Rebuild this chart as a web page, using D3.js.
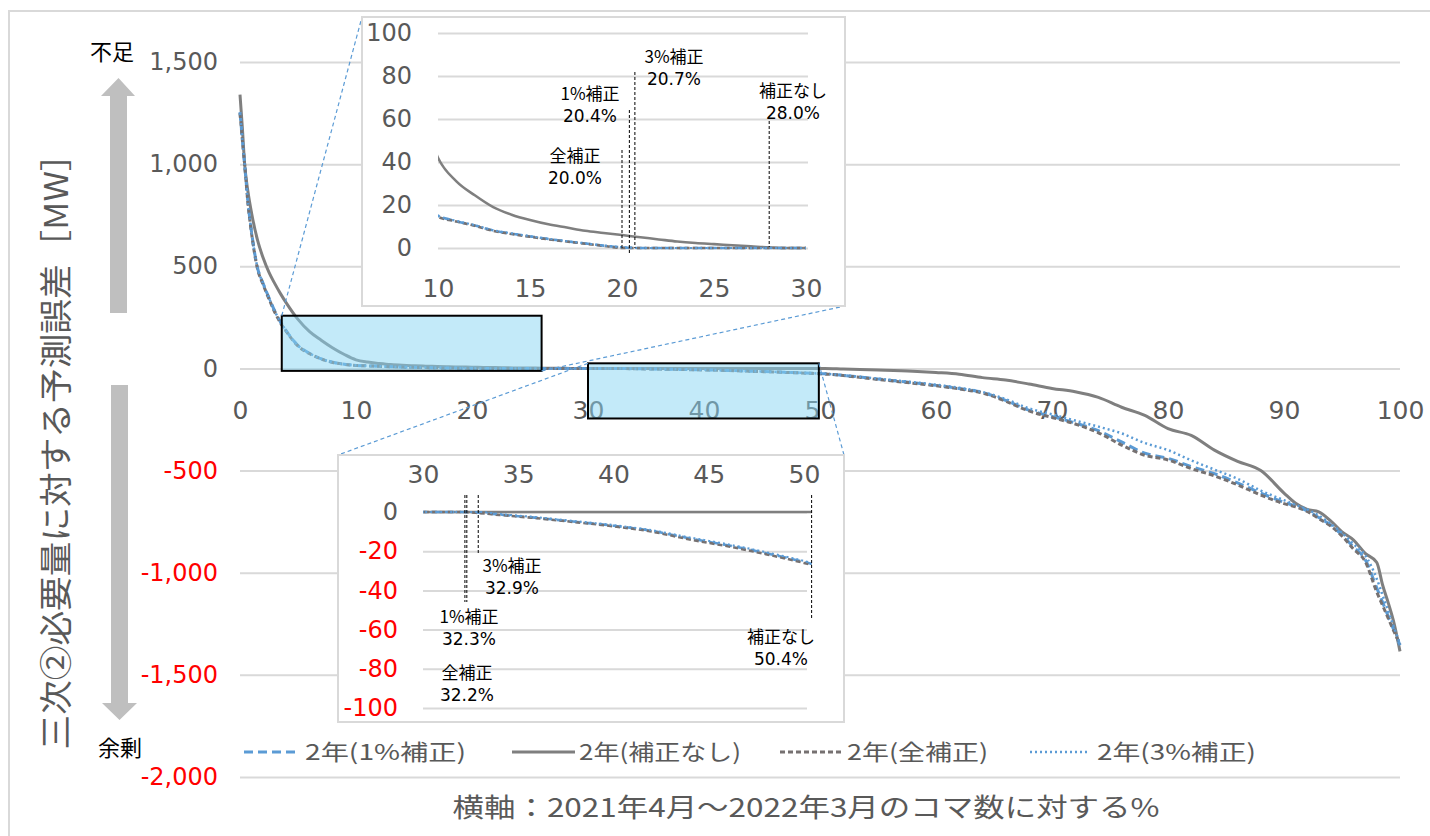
<!DOCTYPE html>
<html>
<head>
<meta charset="utf-8">
<script src="https://cdn.jsdelivr.net/npm/d3@7"></script>
<style>
  body { margin: 0; background: #fff; }
  svg { display: block; }
</style>
</head>
<body>
<div id="chart"></div>
<script>
// x positions (% of periods) shared by all series
const xs = [0, 0.2, 0.4, 0.7, 1, 1.5, 2, 2.5, 3, 3.5, 4,
  5, 6, 7, 8, 9, 10,
  11, 12, 13, 14, 15, 16, 17, 18, 19, 20, 21, 22, 23, 24, 25, 26, 27, 28, 29, 30,
  32, 33, 34, 36, 38, 40, 42, 44, 46, 48, 50, 50.4,
  52, 55, 58, 60, 62, 64, 66, 68, 70,
  72, 74, 76, 78, 80, 82, 84, 86, 88, 90,
  91, 92, 93, 94, 95, 96, 97, 98, 98.5, 99, 99.5, 100];

const noCorr = [1340, 1180, 1000, 860, 760, 630, 540, 470, 415, 365, 320,
  240, 180, 138, 100, 68, 42,
  31, 24.5, 19, 15.5, 13, 11, 9.5, 8, 7, 6, 5, 4, 3, 2.3, 1.8, 1.3, 0.8, 0.3, 0, 0,
  0, 0, 0, 0, 0, 0, 0, 0, 0, 0, 0, 0,
  -3, -8, -14, -20, -28, -45, -57, -76, -98,
  -114, -142, -190, -230, -295, -328, -400, -455, -500, -610,
  -660, -690, -702, -745, -800, -840, -905, -950, -1060, -1150, -1250, -1385];

const allCorr = [1250, 1120, 1000, 800, 660, 490, 410, 340, 275, 222, 180,
  110, 72, 46, 29, 20, 14.5,
  12.3, 10.3, 8, 6.5, 5.2, 4, 3, 2, 1, 0, 0, 0, 0, 0, 0, 0, 0, 0, 0, 0,
  0, -0.6, -1.5, -3.2, -5.2, -7.3, -10, -14, -17.5, -21.5, -26, -27,
  -35, -54, -72, -85, -100, -120, -160, -208, -240,
  -272, -315, -375, -425, -448, -490, -526, -570, -620, -662,
  -678, -700, -735, -770, -820, -885, -945, -1095, -1160, -1225, -1290, -1350];

const corr1 = [1255, 1125, 1000, 805, 665, 495, 415, 345, 280, 226, 183,
  112, 74, 47, 30, 20.5, 15,
  12.5, 10.5, 8.2, 6.7, 5.4, 4.2, 3.1, 2.1, 1.1, 0.3, 0, 0, 0, 0, 0, 0, 0, 0, 0, 0,
  0, -0.4, -1.3, -3, -5, -7, -9.6, -13.5, -17, -21, -25.5, -26.5,
  -34, -52, -70, -83, -98, -118, -156, -204, -235,
  -267, -305, -360, -415, -440, -480, -515, -560, -610, -655,
  -674, -697, -730, -766, -815, -875, -935, -1075, -1145, -1215, -1285, -1355];

const corr3 = [1250, 1120, 1000, 805, 665, 495, 415, 345, 280, 226, 183,
  112, 74, 47, 30, 20.5, 15,
  12.6, 10.6, 8.3, 6.8, 5.5, 4.3, 3.2, 2.2, 1.2, 0.4, 0, 0, 0, 0, 0, 0, 0, 0, 0, 0,
  0, 0, -1, -2.7, -4.7, -6.7, -9.3, -13, -16.5, -20.5, -25, -26,
  -33, -50, -67, -80, -95, -115, -150, -195, -225,
  -255, -285, -318, -365, -400, -450, -495, -540, -598, -645,
  -668, -690, -720, -760, -805, -860, -915, -1030, -1110, -1190, -1270, -1350];

const seriesNames = ['2年(1%補正)', '2年(補正なし)', '2年(全補正)', '2年(3%補正)'];
const seriesValues = [corr1, noCorr, allCorr, corr3];

const mainYTicks = [1500, 1000, 500, 0, -500, -1000, -1500, -2000];
const mainXTicks = [0, 10, 20, 30, 40, 50, 60, 70, 80, 90, 100];
const inset1YTicks = [0, 20, 40, 60, 80, 100];
const inset1XTicks = [10, 15, 20, 25, 30];
const inset2YTicks = [0, -20, -40, -60, -80, -100];
const inset2XTicks = [30, 35, 40, 45, 50];

// zoomed ranges [x0, x1, y0, y1]
const zoomBox1 = [3.6, 26, -12, 258];
const zoomBox2 = [30, 49.9, -245, 25];

// crossing points annotated in the insets
const inset1Notes = [['全補正', '20.0%', 20.0], ['1%補正', '20.4%', 20.4], ['3%補正', '20.7%', 20.7], ['補正なし', '28.0%', 28.0]];
const inset2Notes = [['全補正', '32.2%', 32.2], ['1%補正', '32.3%', 32.3], ['3%補正', '32.9%', 32.9], ['補正なし', '50.4%', 50.4]];

// ---- styles / layout ----
const styles = [
  { color: '#5b9bd5', dash: '9,5', width: 3 },
  { color: '#7f7f7f', dash: null, width: 3 },
  { color: '#767171', dash: '5,3', width: 3 },
  { color: '#5b9bd5', dash: '2,3', width: 2.5 }
];
const drawOrder = [1, 0, 2, 3];
const grey = '#595959';
const gridC = '#d9d9d9';
const cjk = '"Noto Sans CJK JP", "Noto Sans", sans-serif';
const num = '"DejaVu Sans", Verdana, sans-serif';

const svg = d3.select('#chart').append('svg')
  .attr('width', 1430).attr('height', 836)
  .style('background', '#fff');

svg.append('rect').attr('x', 9).attr('y', 11).attr('width', 1440).attr('height', 840)
  .attr('fill', 'none').attr('stroke', gridC).attr('stroke-width', 2);

const x = d3.scaleLinear().domain([0, 100]).range([240, 1400]);
const y = d3.scaleLinear().domain([-2000, 1500]).range([777, 62]);

const fmt = d => (d < 0 ? '-' : '') + d3.format(',')(Math.abs(d));

// gridlines
svg.append('g')
  .attr('transform', 'translate(240,0)')
  .call(d3.axisLeft(y).tickValues(mainYTicks).tickSize(-1160).tickFormat(''))
  .call(g => g.select('.domain').remove())
  .call(g => g.selectAll('line').attr('stroke', gridC).attr('stroke-width', 2));

// y labels
svg.append('g')
  .attr('transform', 'translate(240,0)')
  .call(d3.axisLeft(y).tickValues(mainYTicks).tickSize(0).tickPadding(22).tickFormat(fmt))
  .call(g => g.select('.domain').remove())
  .call(g => g.selectAll('text')
    .style('font-family', num).style('font-size', '24px')
    .attr('fill', d => d < 0 ? '#ff0000' : grey));

// x labels
svg.append('g')
  .attr('transform', 'translate(0,' + y(0) + ')')
  .call(d3.axisBottom(x).tickValues(mainXTicks).tickSize(0).tickPadding(33))
  .call(g => g.select('.domain').remove())
  .call(g => g.selectAll('text')
    .style('font-family', num).style('font-size', '25px').attr('fill', grey));

function lineGen(xsc, ysc) {
  return d3.line()
    .x((d, i) => xsc(xs[i]))
    .y(d => ysc(d))
    .curve(d3.curveMonotoneX);
}

function drawSeries(g, xsc, ysc, scaleW) {
  const gen = lineGen(xsc, ysc);
  drawOrder.forEach(k => {
    g.append('path')
      .attr('d', gen(seriesValues[k]))
      .attr('fill', 'none')
      .attr('stroke', styles[k].color)
      .attr('stroke-width', styles[k].width * scaleW)
      .attr('stroke-dasharray', styles[k].dash)
      .attr('stroke-linejoin', 'round');
  });
}

drawSeries(svg.append('g'), x, y, 1);

// zoom highlight boxes
[zoomBox1, zoomBox2].forEach(b => {
  svg.append('rect')
    .attr('x', x(b[0])).attr('y', y(b[3]))
    .attr('width', x(b[1]) - x(b[0])).attr('height', y(b[2]) - y(b[3]))
    .attr('fill', '#87d5f3').attr('fill-opacity', 0.5)
    .attr('stroke', '#000').attr('stroke-width', 2);
});

// inset boxes
const inset1 = { left: 362, top: 17, right: 845, bottom: 306 };
const inset2 = { left: 338, top: 455, right: 844, bottom: 722 };

// connector lines
const conn = [
  [x(zoomBox1[0]), y(zoomBox1[3]), inset1.left, inset1.top],
  [x(zoomBox1[1]), y(zoomBox1[2]), inset1.right, inset1.bottom],
  [x(zoomBox2[0]), y(zoomBox2[3]), inset2.left, inset2.top],
  [x(zoomBox2[1]), y(zoomBox2[3]), inset2.right, inset2.top]
];
svg.append('g').selectAll('line').data(conn).enter().append('line')
  .attr('x1', d => d[0]).attr('y1', d => d[1]).attr('x2', d => d[2]).attr('y2', d => d[3])
  .attr('stroke', '#5b9bd5').attr('stroke-width', 1.2).attr('stroke-dasharray', '4,3');

function insetFrame(b) {
  svg.append('rect')
    .attr('x', b.left).attr('y', b.top)
    .attr('width', b.right - b.left).attr('height', b.bottom - b.top)
    .attr('fill', '#fff').attr('stroke', gridC).attr('stroke-width', 2);
}

// ---- inset 1 (10-30, 0..100) ----
insetFrame(inset1);
const x1 = d3.scaleLinear().domain([10, 30]).range([438, 806]);
const y1 = d3.scaleLinear().domain([0, 100]).range([248, 33]);
const g1 = svg.append('g');
g1.append('g').attr('transform', 'translate(438,0)')
  .call(d3.axisLeft(y1).tickValues(inset1YTicks).tickSize(-370).tickPadding(26))
  .call(g => g.select('.domain').remove())
  .call(g => g.selectAll('line').attr('stroke', gridC).attr('stroke-width', 2))
  .call(g => g.selectAll('text').style('font-family', num).style('font-size', '24px').attr('fill', grey));
g1.append('g').attr('transform', 'translate(0,248)')
  .call(d3.axisBottom(x1).tickValues(inset1XTicks).tickSize(0).tickPadding(31))
  .call(g => g.select('.domain').remove())
  .call(g => g.selectAll('text').style('font-family', num).style('font-size', '25px').attr('fill', grey));
svg.append('clipPath').attr('id', 'clip1').append('rect')
  .attr('x', x1(10)).attr('y', y1(100)).attr('width', x1(30) - x1(10)).attr('height', y1(0) - y1(100) + 3);
drawSeries(g1.append('g').attr('clip-path', 'url(#clip1)'), x1, y1, 0.85);

const notes1Layout = [
  { top: 150, bottom: 248, tx: 575, ty: 156 },
  { top: 110, bottom: 255, tx: 590, ty: 94 },
  { top: 72, bottom: 248, tx: 674, ty: 57 },
  { top: 121, bottom: 247, tx: 793, ty: 91 }
];
const notes2Layout = [
  { top: 495, bottom: 602, tx: 467, ty: 673 },
  { top: 495, bottom: 602, tx: 469, ty: 617 },
  { top: 495, bottom: 553, tx: 512, ty: 566 },
  { top: 495, bottom: 618, tx: 781, ty: 637 }
];

function drawNotes(g, notes, layout, xsc) {
  notes.forEach((n, i) => {
    const L = layout[i];
    g.append('line')
      .attr('x1', xsc(n[2])).attr('x2', xsc(n[2]))
      .attr('y1', L.top).attr('y2', L.bottom)
      .attr('stroke', '#000').attr('stroke-width', 1).attr('stroke-dasharray', '3,2');
    g.append('text').attr('x', L.tx).attr('y', L.ty).attr('dy', '0.35em')
      .attr('text-anchor', 'middle').style('font-family', cjk).style('font-size', '17px')
      .attr('fill', '#000').text(n[0]);
    g.append('text').attr('x', L.tx).attr('y', L.ty + 22).attr('dy', '0.35em')
      .attr('text-anchor', 'middle').style('font-family', num).style('font-size', '17px')
      .attr('fill', '#000').text(n[1]);
  });
}
drawNotes(g1, inset1Notes, notes1Layout, x1);

// ---- inset 2 (30-50, -100..0) ----
insetFrame(inset2);
const x2 = d3.scaleLinear().domain([30, 50]).range([423, 804]);
const y2 = d3.scaleLinear().domain([-100, 0]).range([708, 512]);
const g2 = svg.append('g');
g2.append('g').attr('transform', 'translate(423,0)')
  .call(d3.axisLeft(y2).tickValues(inset2YTicks).tickSize(-384).tickPadding(25).tickFormat(fmt))
  .call(g => g.select('.domain').remove())
  .call(g => g.selectAll('line').attr('stroke', gridC).attr('stroke-width', 2))
  .call(g => g.selectAll('text').style('font-family', num).style('font-size', '24px')
    .attr('fill', d => d < 0 ? '#ff0000' : grey));
g2.append('g').attr('transform', 'translate(0,512)')
  .call(d3.axisTop(x2).tickValues(inset2XTicks).tickSize(0).tickPadding(29))
  .call(g => g.select('.domain').remove())
  .call(g => g.selectAll('text').style('font-family', num).style('font-size', '25px').attr('fill', grey));
svg.append('clipPath').attr('id', 'clip2').append('rect')
  .attr('x', x2(30)).attr('y', y2(0) - 3).attr('width', x2(50.4) - x2(30)).attr('height', y2(-100) - y2(0) + 3);
drawSeries(g2.append('g').attr('clip-path', 'url(#clip2)'), x2, y2, 0.85);
drawNotes(g2, inset2Notes, notes2Layout, x2);

// ---- legend ----
const legendLayout = [
  { l0: 244, l1: 300, t0: 305, t1: 466 },
  { l0: 512, l1: 575, t0: 579, t1: 741 },
  { l0: 780, l1: 843, t0: 847, t1: 988 },
  { l0: 1030, l1: 1090, t0: 1097, t1: 1256 }
];
const leg = svg.append('g');
seriesNames.forEach((name, i) => {
  const L = legendLayout[i];
  leg.append('line').attr('x1', L.l0).attr('x2', L.l1).attr('y1', 752).attr('y2', 752)
    .attr('stroke', styles[i].color).attr('stroke-width', styles[i].width)
    .attr('stroke-dasharray', styles[i].dash);
  leg.append('text').attr('x', L.t0).attr('y', 752).attr('dy', '0.36em')
    .attr('textLength', L.t1 - L.t0).attr('lengthAdjust', 'spacingAndGlyphs')
    .style('font-family', cjk).style('font-size', '22px').attr('fill', grey).text(name);
});

// ---- axis titles and arrows ----
svg.append('text').attr('x', 806).attr('y', 808).attr('dy', '0.36em')
  .attr('text-anchor', 'middle').attr('textLength', 707).attr('lengthAdjust', 'spacingAndGlyphs')
  .style('font-family', cjk).style('font-size', '26px').attr('fill', grey)
  .text('横軸：2021年4月～2022年3月のコマ数に対する%');

svg.append('text').attr('transform', 'translate(56,443) rotate(-90)').attr('dy', '0.36em')
  .attr('text-anchor', 'middle').attr('textLength', 613).attr('lengthAdjust', 'spacingAndGlyphs')
  .style('font-family', cjk).style('font-size', '33px').attr('fill', grey)
  .text('三次②必要量に対する予測誤差［MW］');

svg.append('polygon')
  .attr('points', '110,313 127,313 127,96 135,96 118.5,78 101,96 110,96')
  .attr('fill', '#bfbfbf');
svg.append('polygon')
  .attr('points', '111,385 128,385 128,703 137,703 119.5,720 102,703 111,703')
  .attr('fill', '#bfbfbf');

svg.append('text').attr('x', 112).attr('y', 52).attr('dy', '0.36em').attr('text-anchor', 'middle')
  .style('font-family', cjk).style('font-size', '22px').attr('fill', '#000').text('不足');
svg.append('text').attr('x', 120).attr('y', 748).attr('dy', '0.36em').attr('text-anchor', 'middle')
  .style('font-family', cjk).style('font-size', '22px').attr('fill', '#000').text('余剰');
</script>
</body>
</html>
